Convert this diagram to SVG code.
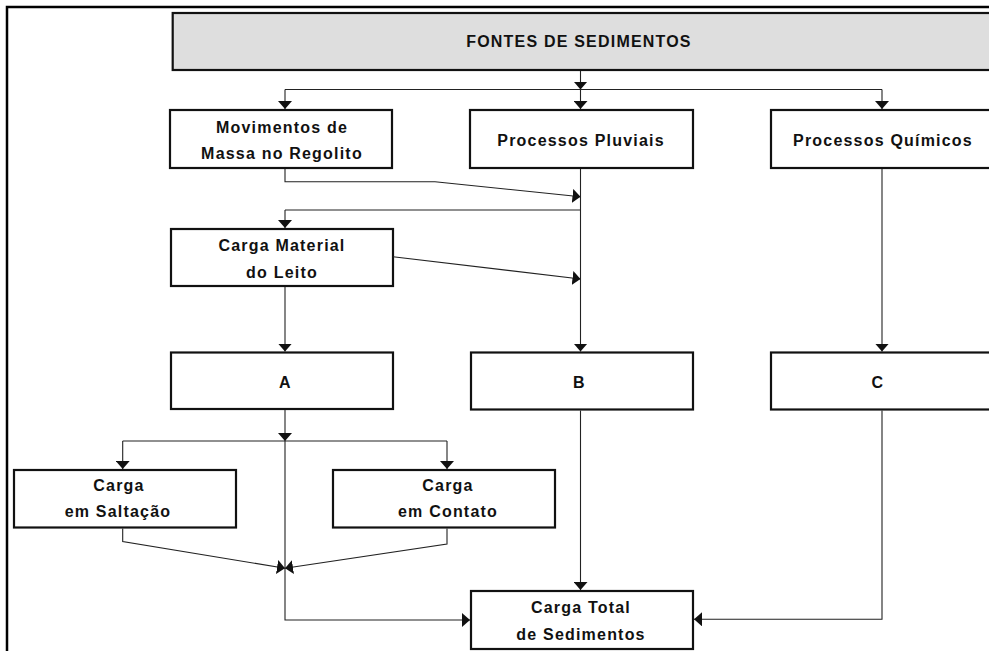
<svg xmlns="http://www.w3.org/2000/svg" width="989" height="651" viewBox="0 0 989 651">
<defs>
<marker id="arr" viewBox="0 -7 8 14" markerWidth="8" markerHeight="14" refX="8" refY="0" markerUnits="userSpaceOnUse" orient="auto">
<path d="M0,-7 L8,0 L0,7 z" fill="#111"/>
</marker>
</defs>
<style>
.box{fill:#fff;stroke:#111;stroke-width:2.2}
.head{fill:#dedede;stroke:#111;stroke-width:2.2}
.t{font-family:"Liberation Sans",Arial,sans-serif;font-weight:bold;font-size:16px;letter-spacing:1.2px;fill:#111;text-anchor:middle}
.c{fill:none;stroke:#222;stroke-width:1.1}
.ca{fill:none;stroke:#222;stroke-width:1.1;marker-end:url(#arr)}
</style>
<rect width="989" height="651" fill="#fff"/>
<path d="M7,651 V7 H989" fill="none" stroke="#000" stroke-width="2.5"/>

<g id="fontes">
<rect class="head" x="172.7" y="13" width="830" height="57"/>
<text class="t" x="579" y="47">FONTES DE SEDIMENTOS</text>
</g>
<g id="movimentos">
<rect class="box" x="170" y="110" width="222" height="58"/>
<text class="t" x="282" y="132.5">Movimentos de</text>
<text class="t" x="282" y="158.5">Massa no Regolito</text>
</g>
<g id="pluviais">
<rect class="box" x="470" y="110" width="223" height="58"/>
<text class="t" x="581" y="145.5">Processos Pluviais</text>
</g>
<g id="quimicos">
<rect class="box" x="771" y="110" width="230" height="58"/>
<text class="t" x="883" y="145.5">Processos Químicos</text>
</g>
<g id="carga-material">
<rect class="box" x="171" y="229" width="222" height="57"/>
<text class="t" x="282" y="251">Carga Material</text>
<text class="t" x="282" y="277.5">do Leito</text>
</g>
<g id="a">
<rect class="box" x="171" y="352.5" width="222" height="56.5"/>
<text class="t" x="285.5" y="388">A</text>
</g>
<g id="b">
<rect class="box" x="471" y="352.5" width="222" height="57"/>
<text class="t" x="579.5" y="388">B</text>
</g>
<g id="c">
<rect class="box" x="771" y="352.5" width="230" height="57"/>
<text class="t" x="878" y="388">C</text>
</g>
<g id="saltacao">
<rect class="box" x="14" y="470" width="222" height="57.5"/>
<text class="t" x="119" y="491">Carga</text>
<text class="t" x="118" y="517">em Saltação</text>
</g>
<g id="contato">
<rect class="box" x="333" y="470" width="222" height="57.5"/>
<text class="t" x="448" y="491">Carga</text>
<text class="t" x="448" y="517">em Contato</text>
</g>
<g id="carga-total">
<rect class="box" x="471" y="591" width="222" height="58"/>
<text class="t" x="581" y="613">Carga Total</text>
<text class="t" x="581" y="639.5">de Sedimentos</text>
</g>

<g id="connectors">
<path class="ca" d="M580.5,71 V89.5"/>
<path class="c" d="M285,89.5 H882"/>
<path class="ca" d="M285,89.5 V109"/>
<path class="ca" d="M580.5,89.5 V109"/>
<path class="ca" d="M882,89.5 V109"/>
<path class="ca" d="M285,169 V181.7 H435 L580.5,196.7"/>
<path class="c" d="M580.5,210 H285"/>
<path class="ca" d="M285,210 V228"/>
<path class="ca" d="M393,256.7 L580.5,279"/>
<path class="ca" d="M580.5,169 V351.5"/>
<path class="ca" d="M285,287 V351.5"/>
<path class="ca" d="M882,169 V351.5"/>
<path class="ca" d="M285,410 V441"/>
<path class="c" d="M122.7,441 H447"/>
<path class="ca" d="M122.7,441 V469"/>
<path class="ca" d="M447,441 V469"/>
<path class="ca" d="M285,441 V620 H470"/>
<path class="ca" d="M122.7,528.5 V541.5 L285,568.3"/>
<path class="ca" d="M447,528.5 V544 L285,568.3"/>
<path class="ca" d="M580.5,410.5 V590"/>
<path class="ca" d="M882,410.5 V619.3 H694"/>
</g>
</svg>
